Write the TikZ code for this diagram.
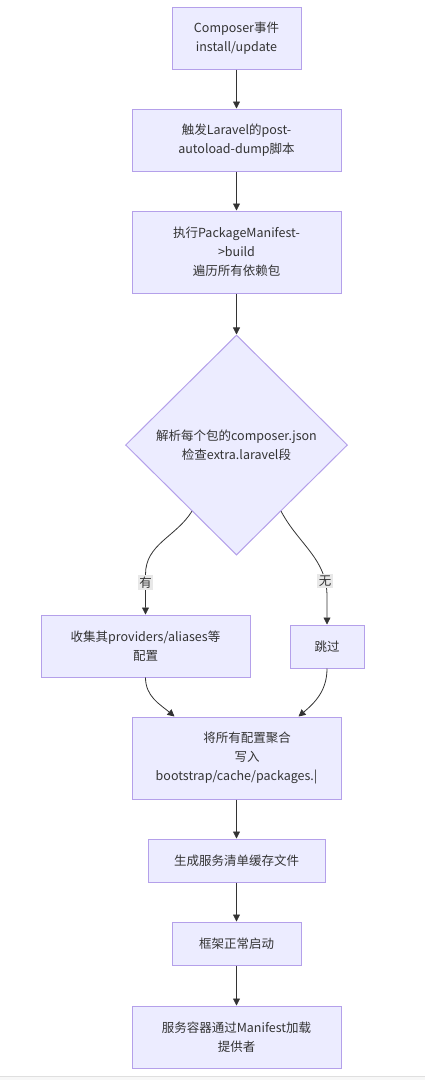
\documentclass[tikz,border=0pt]{standalone}
\usepackage{fontspec}
\setmainfont{Noto Sans CJK SC}
\usetikzlibrary{arrows.meta}
\usetikzlibrary{shapes.geometric}
\usetikzlibrary{calc}

\definecolor{boxfill}{HTML}{ECECFF}
\definecolor{boxline}{HTML}{B4A0EA}
\definecolor{edgeline}{HTML}{333333}
\definecolor{lblfill}{HTML}{E8E8E8}

\begin{document}
\begin{tikzpicture}[x=1pt,y=-1pt,
  box/.style={draw=boxline, fill=boxfill, line width=1pt, align=center, text=edgeline, inner sep=0pt, font=\fontsize{12.5}{19}\selectfont},
  dec/.style={box, diamond, minimum width=222pt, minimum height=220pt},
  edge/.style={draw=edgeline, line width=0.8pt, -{Triangle[length=7pt,width=7pt]}},
  lbl/.style={fill=lblfill, text=edgeline, inner sep=1.5pt, font=\fontsize{12.5}{15}\selectfont}]
\useasboundingbox (0,0) rectangle (425,1080);
\fill[gray!6] (0,1076) rectangle (425,1080);
\draw[gray!25] (0,1076) -- (425,1076);

\node[box, minimum width=129pt, minimum height=62pt] (evt) at (236.5,38) {Composer事件\\install/update};
\node[box, minimum width=209pt, minimum height=62pt] (hook) at (236.5,140) {触发Laravel的post-\\autoload-dump脚本};
\node[box, minimum width=209pt, minimum height=82pt] (build) at (236.5,252) {执行PackageManifest-\\>build\\遍历所有依赖包};
\node[dec] (parse) at (236.5,445) {解析每个包的composer.json\\检查extra.laravel段};
\node[box, minimum width=209pt, minimum height=62pt] (collect) at (145.5,646) {收集其providers/aliases等\\配置};
\node[box, minimum width=74pt, minimum height=43pt] (skip) at (327,646.5) {跳过};
\node[box, minimum width=209pt, minimum height=82pt] (merge) at (236.5,758) {\hspace*{21pt}将所有配置聚合\\\hspace*{21pt}写入\\bootstrap/cache/packages.|};
\node[box, minimum width=177pt, minimum height=43pt] (gen) at (236.5,860.5) {生成服务清单缓存文件};
\node[box, minimum width=129pt, minimum height=43pt] (boot) at (236.5,943.5) {框架正常启动};
\node[box, minimum width=209pt, minimum height=62pt] (load) at (236.5,1037) {服务容器通过Manifest加载\\提供者};

\draw[edge] (evt) -- (hook);
\draw[edge] (hook) -- (build);
\draw[edge] (build) -- (parse);
\draw[edge] ($(parse.west)!0.6!(parse.south)$) to[out=-122,in=90] ($(collect.north)+(0,-40)$) -- node[lbl,pos=0.2]{有} (collect.north);
\draw[edge] ($(parse.east)!0.6!(parse.south)$) to[out=-62,in=90] node[lbl,pos=0.85]{无} ($(skip.north)+(0,-28)$) -- (skip.north);
\draw[edge] (collect.south) to[out=-90,in=140] ($(merge.north west)+(43,0)$);
\draw[edge] (skip.south) to[out=-90,in=40] ($(merge.north east)+(-43,0)$);
\draw[edge] (merge) -- (gen);
\draw[edge] (gen) -- (boot);
\draw[edge] (boot) -- (load);

\end{tikzpicture}
\end{document}
